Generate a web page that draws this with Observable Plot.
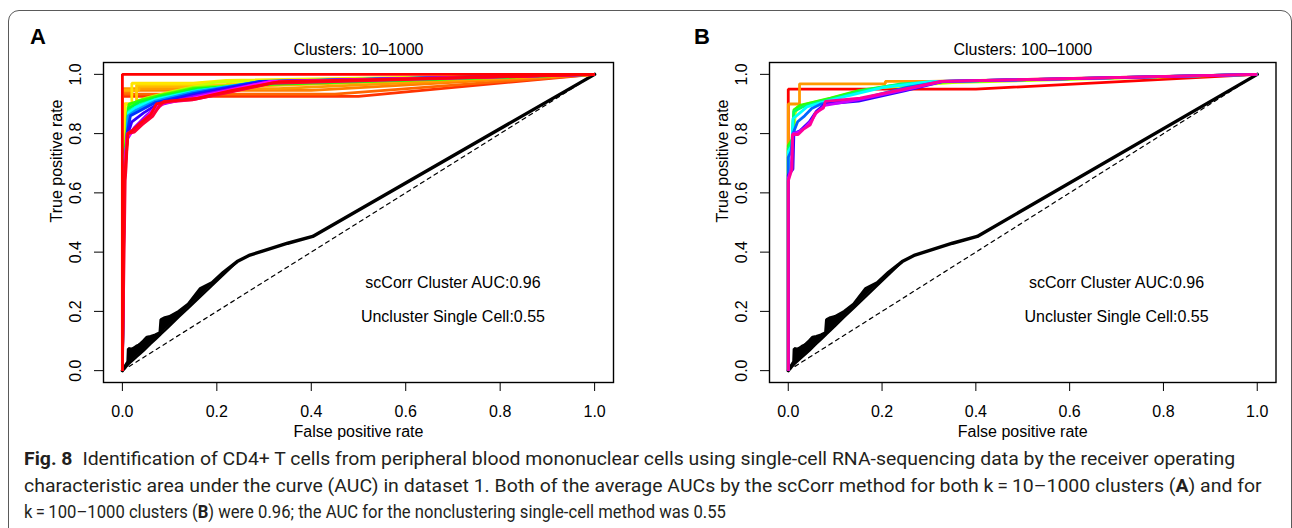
<!DOCTYPE html>
<html><head><meta charset="utf-8">
<script src="https://cdn.jsdelivr.net/npm/d3@7"></script>
<script src="https://cdn.jsdelivr.net/npm/@observablehq/plot@0.6"></script>
<style>
body{margin:0;background:#fff;}
#fig{position:relative;width:1292px;height:528px;overflow:hidden;background:#fff;}
.panel{position:absolute;top:0;}
.letter{position:absolute;font-family:"Liberation Sans",Arial,sans-serif;font-weight:bold;font-size:22px;line-height:1;}
#border{position:absolute;left:8px;top:10px;width:1282px;height:640px;border:1.2px solid #5a5a5a;border-radius:11px;}
#cap{position:absolute;left:0;top:440px;}
</style></head>
<body>
<div id="fig">
  <div id="border"></div>
  <div class="letter" style="left:30px;top:26px">A</div>
  <div class="letter" style="left:694px;top:26px">B</div>
  <div id="pa" class="panel" style="left:0px"></div>
  <div id="pb" class="panel" style="left:650px"></div>
  <svg id="cap" width="1292" height="88"></svg>
</div>
<script>
// ---------- data ----------
const xTicks = [0, 0.2, 0.4, 0.6, 0.8, 1.0];
const yTicks = [0, 0.2, 0.4, 0.6, 0.8, 1.0];
const panelTitles = ["Clusters: 10\u20131000", "Clusters: 100\u20131000"];
const xLabel = "False positive rate";
const yLabel = "True positive rate";
const notes = ["scCorr Cluster AUC:0.96", "Uncluster Single Cell:0.55"];
const noteX = [0.7, 0.7];
const noteY = [0.297, 0.183];

// single-cell (unclustered) ROC, same in both panels
// jagged upper outline
const singleCell = [[0,0],[0.012,0.03],[0.013,0.074],[0.02,0.072],[0.025,0.076],[0.03,0.082],[0.035,0.086],[0.038,0.09],[0.045,0.1],[0.052,0.112],[0.06,0.115],[0.07,0.12],[0.08,0.128],[0.082,0.172],[0.09,0.178],[0.1,0.182],[0.12,0.2],[0.14,0.225],[0.165,0.276],[0.19,0.297],[0.214,0.332],[0.243,0.368],[0.27,0.39],[0.3,0.405],[0.35,0.43],[0.403,0.453],[1,1]];
// dense band under the jagged part: [fpr, lower, upper]
const singleCellBand = [[0,0,0],[0.012,0.02,0.03],[0.013,0.022,0.074],[0.02,0.032,0.072],[0.03,0.047,0.082],[0.038,0.058,0.09],[0.045,0.068,0.1],[0.052,0.079,0.112],[0.06,0.091,0.115],[0.07,0.106,0.12],[0.08,0.121,0.128],[0.082,0.124,0.172],[0.09,0.136,0.178],[0.1,0.151,0.182],[0.12,0.182,0.2],[0.14,0.212,0.225],[0.165,0.25,0.276],[0.19,0.288,0.297],[0.214,0.324,0.332],[0.243,0.368,0.368]];
const chance = [[0,0],[1,1]];

// panel A: clusters 10-1000 (rainbow palette)
const colorsA = ["#FF0000","#FF3300","#FF6600","#FF8000","#FF9900","#FFB300","#FFCC00","#FFE600","#CCFF00","#80FF00","#33FF00","#00FF33","#00FF99","#00FFFF","#0099FF","#0033FF","#3300FF","#9900FF","#FF00FF","#FF0099","#FF0033","#FF0011"];
const curvesA = [
  [[0,0],[0,1],[1,1]],
  [[0,0],[0,0.926],[0.5,0.926],[1,1]],
  [[0,0],[0,0.933],[0.45,0.933],[1,1]],
  [[0,0],[0,0.94],[0.02,0.94],[0.02,0.946],[0.4,0.946],[1,1]],
  [[0,0],[0,0.952],[0.33,0.952],[1,1]],
  [[0,0],[0,0.946],[0.035,0.946],[0.035,0.958],[0.28,0.96],[1,1]],
  [[0,0],[0,0.9],[0.03,0.9],[0.03,0.964],[0.22,0.966],[1,1]],
  [[0,0],[0.004,0.75],[0.006,0.9],[0.02,0.9],[0.02,0.97],[0.15,0.97],[0.22,0.98],[1,1]],
  [[0,0],[0.004,0.74],[0.01,0.76],[0.01,0.87],[0.02,0.9],[0.05,0.92],[0.1,0.94],[0.2,0.975],[1,1]],
  [[0,0],[0.004,0.74],[0.008,0.8],[0.012,0.89],[0.035,0.912],[0.08,0.93],[0.15,0.955],[0.3,0.968],[1,1]],
  [[0,0],[0.004,0.74],[0.01,0.79],[0.014,0.9],[0.04,0.912],[0.08,0.928],[0.15,0.952],[0.3,0.965],[1,1]],
  [[0,0],[0.004,0.73],[0.01,0.78],[0.013,0.885],[0.035,0.905],[0.08,0.925],[0.16,0.95],[0.3,0.968],[1,1]],
  [[0,0],[0.004,0.72],[0.01,0.77],[0.013,0.875],[0.04,0.9],[0.08,0.92],[0.16,0.947],[0.3,0.97],[1,1]],
  [[0,0],[0.004,0.71],[0.009,0.76],[0.013,0.87],[0.03,0.89],[0.07,0.915],[0.15,0.942],[0.29,0.974],[1,1]],
  [[0,0],[0.004,0.7],[0.008,0.74],[0.012,0.86],[0.03,0.88],[0.07,0.91],[0.15,0.94],[0.29,0.975],[1,1]],
  [[0,0],[0.004,0.68],[0.008,0.72],[0.01,0.8],[0.017,0.86],[0.04,0.88],[0.07,0.905],[0.15,0.935],[0.29,0.976],[1,1]],
  [[0,0],[0.004,0.67],[0.006,0.7],[0.01,0.79],[0.02,0.84],[0.045,0.87],[0.075,0.9],[0.15,0.93],[0.3,0.975],[1,1]],
  [[0,0],[0.004,0.66],[0.005,0.69],[0.01,0.78],[0.025,0.82],[0.05,0.86],[0.075,0.895],[0.15,0.925],[0.31,0.975],[1,1]],
  [[0,0],[0.004,0.65],[0.005,0.68],[0.01,0.79],[0.025,0.81],[0.055,0.86],[0.075,0.9],[0.15,0.92],[0.31,0.975],[1,1]],
  [[0,0],[0.004,0.645],[0.005,0.68],[0.01,0.8],[0.03,0.82],[0.06,0.858],[0.078,0.89],[0.09,0.905],[0.15,0.915],[0.32,0.972],[1,1]],
  [[0,0],[0.006,0.64],[0.008,0.69],[0.011,0.8],[0.025,0.805],[0.042,0.83],[0.064,0.858],[0.078,0.892],[0.088,0.909],[0.148,0.914],[0.218,0.937],[0.318,0.97],[1,1]],
  [[0,0],[0.004,0.63],[0.007,0.7],[0.012,0.8],[0.022,0.812],[0.04,0.838],[0.06,0.865],[0.072,0.9],[0.1,0.91],[0.16,0.92],[0.23,0.945],[0.33,0.975],[1,1]]
];

// panel B: clusters 100-1000 (rainbow(10))
const colorsB = ["#FF0000","#FF9900","#CCFF00","#33FF00","#00FF66","#00FFFF","#0066FF","#3300FF","#CC00FF","#FF0099"];
const curvesB = [
  [[0,0],[0,0.95],[0.4,0.95],[1,1]],
  [[0,0],[0,0.9],[0.024,0.9],[0.024,0.968],[0.207,0.968],[0.207,0.976],[0.3,0.976],[1,1]],
  [[0,0],[0,0.75],[0.01,0.76],[0.015,0.87],[0.02,0.89],[0.04,0.9],[0.08,0.915],[0.13,0.935],[0.2,0.955],[0.35,0.972],[1,1]],
  [[0,0],[0,0.76],[0.008,0.78],[0.012,0.88],[0.025,0.895],[0.05,0.905],[0.09,0.92],[0.15,0.945],[0.22,0.962],[0.34,0.975],[1,1]],
  [[0,0],[0,0.75],[0.008,0.77],[0.012,0.875],[0.03,0.89],[0.06,0.905],[0.1,0.92],[0.16,0.945],[0.24,0.968],[0.34,0.976],[1,1]],
  [[0,0],[0,0.74],[0.008,0.76],[0.01,0.85],[0.025,0.87],[0.04,0.89],[0.07,0.905],[0.12,0.925],[0.2,0.955],[0.3,0.975],[1,1]],
  [[0,0],[0,0.72],[0.006,0.74],[0.01,0.8],[0.02,0.84],[0.035,0.86],[0.05,0.885],[0.07,0.9],[0.15,0.915],[0.25,0.955],[0.33,0.976],[1,1]],
  [[0,0],[0,0.66],[0.01,0.68],[0.012,0.8],[0.025,0.81],[0.045,0.84],[0.06,0.875],[0.078,0.9],[0.15,0.91],[0.25,0.945],[0.33,0.976],[1,1]],
  [[0,0],[0,0.65],[0.006,0.68],[0.01,0.8],[0.022,0.805],[0.035,0.82],[0.05,0.845],[0.06,0.87],[0.078,0.895],[0.15,0.915],[0.26,0.952],[0.33,0.976],[1,1]],
  [[0,0],[0,0.64],[0.008,0.68],[0.009,0.797],[0.021,0.797],[0.032,0.814],[0.047,0.83],[0.058,0.87],[0.075,0.886],[0.079,0.909],[0.153,0.92],[0.26,0.954],[0.324,0.976],[1,1]]
];

// caption
const captionLines = [
  [["Fig. 8", true], ["\u2002Identification of CD4+ T cells from peripheral blood mononuclear cells using single-cell RNA-sequencing data by the receiver operating", false]],
  [["characteristic area under the curve (AUC) in dataset 1. Both of the average AUCs by the scCorr method for both k\u2009=\u200910\u20131000 clusters (", false], ["A", true], [") and for", false]],
  [["k\u2009=\u2009100\u20131000 clusters (", false], ["B", true], [") were 0.96; the AUC for the nonclustering single-cell method was 0.55", false]]
];
const captionWidths = [1212, 1238, 702];

// ---------- drawing ----------
function panel(curves, colors, title, opts, lastFirst) {
  const order = curves.map((c, i) => i);
  if (lastFirst) { order.shift(); order.push(0); }
  const yl = yTicks.map(v => ({v}));
  return Plot.plot({
    width: opts.width, height: 440,
    marginTop: 62, marginBottom: 58, marginLeft: opts.ml, marginRight: opts.mr,
    style: {fontFamily: "'Liberation Sans', Arial, sans-serif", fontSize: "16px", background: "transparent", overflow: "visible", color: "black"},
    x: {domain: [-0.04, 1.04], ticks: xTicks, tickSize: 9, tickPadding: 14, tickFormat: d3.format(".1f"), label: null},
    y: {domain: [-0.04, 1.04], ticks: yTicks, tickSize: 9, tickPadding: 2, tickFormat: () => "", label: null},
    marks: [
      Plot.line(chance, {stroke: "black", strokeWidth: 1.2, strokeDasharray: "4,4"}),
      Plot.area(singleCellBand, {x1: d => d[0], y1: d => d[1], y2: d => d[2], fill: "black"}),
      Plot.line(singleCellBand, {x: d => d[0], y: d => d[1], stroke: "black", strokeWidth: 2.5}),
      Plot.line(singleCell, {stroke: "black", strokeWidth: 3.4, strokeLinejoin: "miter"}),
      ...order.map(i => Plot.line(curves[i], {stroke: colors[i], strokeWidth: 2.8, strokeLinejoin: "miter", strokeLinecap: "butt"})),
      Plot.frame({stroke: "black", strokeWidth: 1.4}),
      Plot.text(yl, {x: () => -0.04, y: "v", text: d => d3.format(".1f")(d.v), rotate: -90, dx: -28, textAnchor: "middle"}),
      Plot.text([title], {frameAnchor: "top", dy: -19}),
      Plot.text([xLabel], {frameAnchor: "bottom", dy: 54}),
      Plot.text([yLabel], {frameAnchor: "left", dx: -47, rotate: -90}),
      Plot.text(notes, {x: (d, i) => noteX[i], y: (d, i) => noteY[i], text: d => d})
    ]
  });
}

document.getElementById("pa").append(panel(curvesA, colorsA, panelTitles[0], {width: 650, ml: 103, mr: 37}, true));
document.getElementById("pb").append(panel(curvesB, colorsB, panelTitles[1], {width: 642, ml: 119, mr: 16.5}, false));

// caption as svg text, stretched horizontally to the reference line widths
const cap = d3.select("#cap");
const baselines = [25, 52, 78];
captionLines.forEach((parts, li) => {
  const g = cap.append("g");
  const t = g.append("text")
    .attr("x", 0).attr("y", 0)
    .attr("font-family", "'Liberation Sans Narrow', 'Roboto', 'Liberation Sans', sans-serif")
    .attr("font-size", 19).attr("fill", "#231f20");
  parts.forEach(([s, b]) => t.append("tspan").attr("font-weight", b ? "bold" : null).text(s));
  const w = t.node().getComputedTextLength();
  const sx = w > 0 ? captionWidths[li] / w : 1;
  g.attr("transform", `translate(24,${baselines[li]}) scale(${sx},1)`);
});
</script>
</body></html>
